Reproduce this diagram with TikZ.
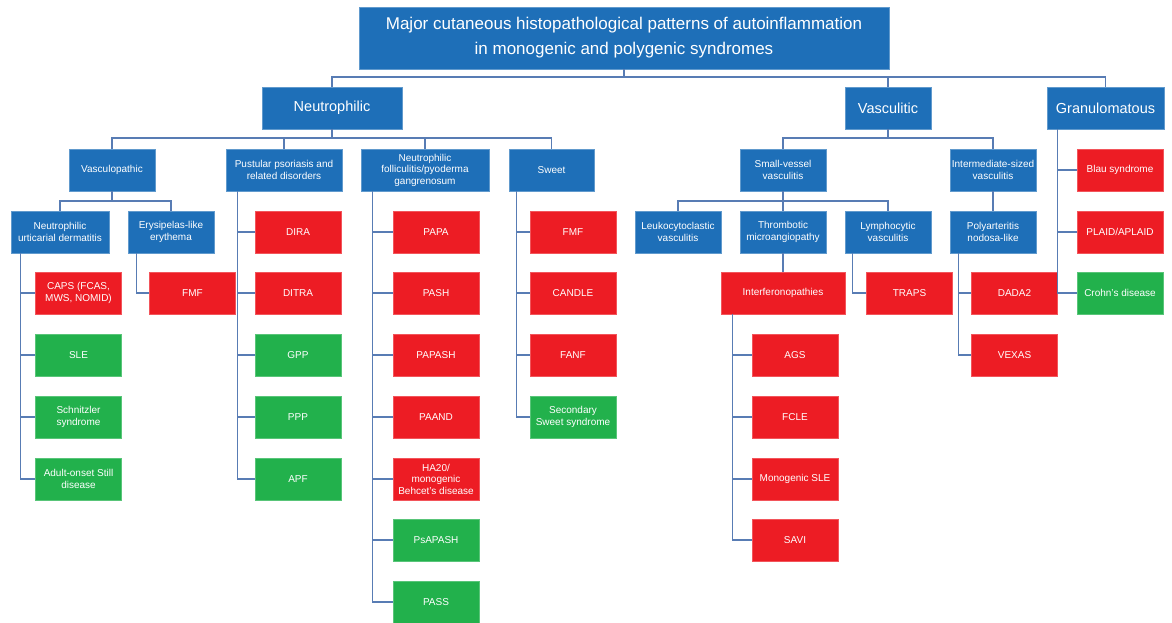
\documentclass[tikz,border=0pt]{standalone}
\usepackage{fontspec}
\setmainfont{Liberation Sans}
\usetikzlibrary{calc}
\definecolor{cblue}{RGB}{30,111,184}
\definecolor{cred}{RGB}{237,28,36}
\definecolor{cgreen}{RGB}{34,177,76}
\definecolor{cline}{RGB}{88,124,180}
\begin{document}
\begin{tikzpicture}[x=1pt,y=-1pt,
  box/.style={rectangle, minimum height=42pt, minimum width=86pt, inner sep=1pt, align=center, text=white, font=\fontsize{10}{11.5}\selectfont, line width=0.6pt},
  bbox/.style={box, fill=cblue, draw=cblue!70!white},
  rbox/.style={box, fill=cred, draw=cred!75!white},
  gbox/.style={box, fill=cgreen, draw=cgreen!75!white},
  topbox/.style={bbox, font=\fontsize{14.5}{17}\selectfont},
  conn/.style={draw=cline, line width=1.3pt}]
\useasboundingbox (0,0) rectangle (1172,622);
\fill[white] (0,0) rectangle (1172,622);
% title
\node[bbox, minimum width=530pt, minimum height=62pt, font=\fontsize{17}{25}\selectfont] (title) at (624,38) {Major cutaneous histopathological patterns of autoinflammation\\in monogenic and polygenic syndromes};
% level 1
\node[topbox, minimum width=140pt] (neut) at (332,108) {Neutrophilic};
\node[topbox, minimum width=86pt] (vasc) at (888,108) {Vasculitic};
\node[topbox, minimum width=117pt] (gran) at (1105.5,108) {Granulomatous};
% level 2
\node[bbox] (vpath) at (112,170) {Vasculopathic};
\node[bbox, minimum width=116pt] (pust) at (284,170) {Pustular psoriasis and\\related disorders};
\node[bbox, minimum width=128pt] (foll) at (425,170) {Neutrophilic\\folliculitis/pyoderma\\gangrenosum};
\node[bbox, minimum width=85pt] (sweet) at (551.5,170) {Sweet};
\node[bbox] (small) at (783,170) {Small-vessel\\vasculitis};
\node[bbox] (inter) at (993,170) {Intermediate-sized\\vasculitis};
\node[rbox] (blau) at (1120,170) {Blau syndrome};
% level 3
\node[bbox, minimum width=98pt] (nud) at (60,232) {Neutrophilic\\urticarial dermatitis};
\node[bbox] (ery) at (171,232) {Erysipelas-like\\erythema};
\node[bbox] (leuko) at (678,232) {Leukocytoclastic\\vasculitis};
\node[bbox] (thromb) at (783,232) {Thrombotic\\microangiopathy};
\node[bbox] (lympho) at (888,232) {Lymphocytic\\vasculitis};
\node[bbox] (poly) at (993,232) {Polyarteritis\\nodosa-like};
\node[rbox] (plaid) at (1120,232) {PLAID/APLAID};
% leaves: neutrophilic urticarial dermatitis
\node[rbox] (caps) at (78.5,293) {CAPS (FCAS,\\MWS, NOMID)};
\node[gbox] (sle) at (78.5,355) {SLE};
\node[gbox] (schn) at (78.5,417) {Schnitzler\\syndrome};
\node[gbox] (aosd) at (78.5,479) {Adult-onset Still\\disease};
% erysipelas
\node[rbox] (fmfa) at (192.5,293) {FMF};
% pustular
\node[rbox] (dira) at (298,232) {DIRA};
\node[rbox] (ditra) at (298,293) {DITRA};
\node[gbox] (gpp) at (298,355) {GPP};
\node[gbox] (ppp) at (298,417) {PPP};
\node[gbox] (apf) at (298,479) {APF};
% folliculitis
\node[rbox] (papa) at (436,232) {PAPA};
\node[rbox] (pash) at (436,293) {PASH};
\node[rbox] (papash) at (436,355) {PAPASH};
\node[rbox] (paand) at (436,417) {PAAND};
\node[rbox] (ha) at (436,479) {HA20/\\monogenic\\Behcet’s disease};
\node[gbox] (psapash) at (436,540) {PsAPASH};
\node[gbox] (pass) at (436,602) {PASS};
% sweet
\node[rbox] (fmfb) at (573,232) {FMF};
\node[rbox] (candle) at (573,293) {CANDLE};
\node[rbox] (fanf) at (573,355) {FANF};
\node[gbox] (secs) at (573,417) {Secondary\\Sweet syndrome};
% thrombotic
\node[rbox, minimum width=124pt] (ifn) at (783,293) {Interferonopathies};
\node[rbox] (ags) at (795,355) {AGS};
\node[rbox] (fcle) at (795,417) {FCLE};
\node[rbox] (msle) at (795,479) {Monogenic SLE};
\node[rbox] (savi) at (795,540) {SAVI};
% lymphocytic
\node[rbox] (traps) at (909.5,293) {TRAPS};
% polyarteritis
\node[rbox] (dada) at (1014.5,293) {DADA2};
\node[rbox] (vexas) at (1014.5,355) {VEXAS};
% granulomatous
\node[gbox] (crohn) at (1120,293) {Crohn’s disease};

% ---- connectors ----
\coordinate (b0) at (0,77);
\coordinate (b1) at (0,138);
\coordinate (b2) at (0,201);
\draw[conn] (title.south) -- (title.south |- b0);
\draw[conn] (neut.north) -- (neut.north |- b0) -- (gran.north |- b0) -- (gran.north);
\draw[conn] (vasc.north |- b0) -- (vasc.north);
\draw[conn] (neut.south) -- (neut.south |- b1);
\draw[conn] (vpath.north) -- (vpath.north |- b1) -- (sweet.north |- b1) -- (sweet.north);
\draw[conn] (pust.north |- b1) -- (pust.north);
\draw[conn] (foll.north |- b1) -- (foll.north);
\draw[conn] (vasc.south) -- (vasc.south |- b1);
\draw[conn] (small.north) -- (small.north |- b1) -- (inter.north |- b1) -- (inter.north);
\draw[conn] (vpath.south) -- (vpath.south |- b2);
\draw[conn] (nud.north) -- (nud.north |- b2) -- (ery.north |- b2) -- (ery.north);
\draw[conn] (small.south) -- (small.south |- b2);
\draw[conn] (leuko.north) -- (leuko.north |- b2) -- (lympho.north |- b2) -- (lympho.north);
\draw[conn] (thromb.north |- b2) -- (thromb.north);
\draw[conn] (thromb.south) -- (ifn.north);
\draw[conn] (inter.south) -- (poly.north);
% leaf lines
\coordinate (lnud) at ([xshift=10pt]nud.south west);
\draw[conn] (lnud) -- (lnud |- aosd.west) -- (aosd.west);
\foreach \n in {caps,sle,schn} \draw[conn] (lnud |- \n.west) -- (\n.west);
\coordinate (lery) at ([xshift=9pt]ery.south west);
\draw[conn] (lery) -- (lery |- fmfa.west) -- (fmfa.west);
\coordinate (lpust) at ([xshift=12pt]pust.south west);
\draw[conn] (lpust) -- (lpust |- apf.west) -- (apf.west);
\foreach \n in {dira,ditra,gpp,ppp} \draw[conn] (lpust |- \n.west) -- (\n.west);
\coordinate (lfoll) at ([xshift=12pt]foll.south west);
\draw[conn] (lfoll) -- (lfoll |- pass.west) -- (pass.west);
\foreach \n in {papa,pash,papash,paand,ha,psapash} \draw[conn] (lfoll |- \n.west) -- (\n.west);
\coordinate (lsweet) at ([xshift=8pt]sweet.south west);
\draw[conn] (lsweet) -- (lsweet |- secs.west) -- (secs.west);
\foreach \n in {fmfb,candle,fanf} \draw[conn] (lsweet |- \n.west) -- (\n.west);
\coordinate (lifn) at ([xshift=12pt]ifn.south west);
\draw[conn] (lifn) -- (lifn |- savi.west) -- (savi.west);
\foreach \n in {ags,fcle,msle} \draw[conn] (lifn |- \n.west) -- (\n.west);
\coordinate (llym) at ([xshift=8pt]lympho.south west);
\draw[conn] (llym) -- (llym |- traps.west) -- (traps.west);
\coordinate (lpoly) at ([xshift=9pt]poly.south west);
\draw[conn] (lpoly) -- (lpoly |- vexas.west) -- (vexas.west);
\draw[conn] (lpoly |- dada.west) -- (dada.west);
\coordinate (lgran) at ([xshift=11pt]gran.south west);
\draw[conn] (lgran) -- (lgran |- crohn.west) -- (crohn.west);
\foreach \n in {blau,plaid} \draw[conn] (lgran |- \n.west) -- (\n.west);
\end{tikzpicture}
\end{document}
